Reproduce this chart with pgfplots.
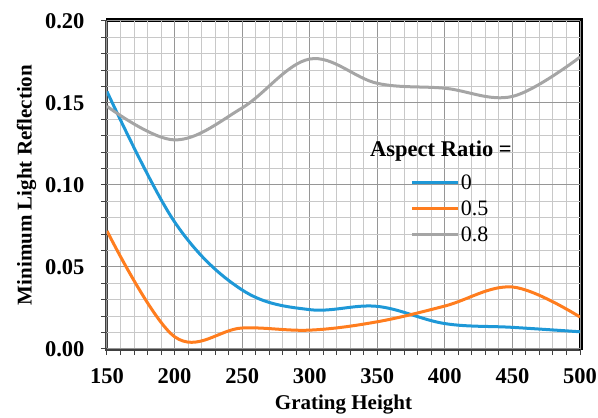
\documentclass[border=0pt]{standalone}
\usepackage{fontspec}
\setmainfont{Liberation Serif}
\usepackage{pgfplots}
\pgfplotsset{compat=1.18}

\definecolor{serA}{RGB}{30,152,215}
\definecolor{serB}{RGB}{255,125,30}
\definecolor{serC}{RGB}{165,165,165}
\definecolor{majgrid}{RGB}{150,150,150}
\definecolor{mingrid}{RGB}{200,200,200}
\definecolor{lframe}{RGB}{64,64,64}

\begin{document}
\begin{tikzpicture}
\useasboundingbox (0,0) rectangle (598pt,418pt);
% plot frame: left and bottom dark grey, top and right black
\draw[lframe, line width=3pt] (106pt,397pt) -- (106pt,68pt) -- (580pt,68pt);
\draw[black, line width=3.5pt] (106pt,398pt) -- (581pt,398pt) -- (581pt,68pt);
\begin{axis}[
  at={(107pt,69pt)}, anchor=south west,
  scale only axis,
  width=473pt, height=328pt,
  xmin=150, xmax=500, ymin=0, ymax=0.2,
  xtick distance=50, ytick distance=0.05,
  minor x tick num=4, minor y tick num=4,
  grid=both,
  major grid style={majgrid, line width=1pt},
  minor grid style={mingrid, line width=1pt},
  axis line style={draw=none},
  tick align=outside,
  tick style={lframe, line width=1pt},
  major tick length=6pt, minor tick length=6pt,
  xtick pos=bottom, ytick pos=left,
  /pgf/number format/assume math mode=true,
  ticklabel style={font=\fontsize{22.5}{26}\selectfont\bfseries},
  xticklabel style={yshift=-10pt},
  yticklabel style={xshift=-13pt},
  y tick label style={/pgf/number format/.cd, fixed, fixed zerofill, precision=2},
  xlabel={Grating Height},
  ylabel={Minimum Light Reflection},
  label style={font=\fontsize{21}{24}\selectfont\bfseries},
  xlabel style={yshift=-4pt},
  ylabel style={yshift=2pt},
  legend style={draw=none, fill=none, at={(rel axis cs:0.635,0.545)}, anchor=north west,
    font=\fontsize{22}{26}\selectfont, row sep=6pt},
  legend cell align=left,
  legend image post style={xscale=2.65},
  every axis plot/.append style={line width=3pt, smooth, tension=0.6},
]
\addplot[serA] coordinates {(150,0.157)(200,0.0775)(250,0.036)(300,0.024)(350,0.026)(400,0.0155)(450,0.0132)(500,0.0105)};
\addlegendentry{0}
\addplot[serB] coordinates {(150,0.072)(200,0.0075)(250,0.0128)(300,0.0115)(350,0.0166)(400,0.0262)(450,0.0378)(500,0.0195)};
\addlegendentry{0.5}
\addplot[serC] coordinates {(150,0.148)(200,0.1275)(250,0.147)(300,0.1768)(350,0.162)(400,0.159)(450,0.154)(500,0.178)};
\addlegendentry{0.8}
\end{axis}
\node[font=\fontsize{22.5}{26}\selectfont\bfseries] at (441pt,267pt) {Aspect Ratio =};
\end{tikzpicture}
\end{document}
